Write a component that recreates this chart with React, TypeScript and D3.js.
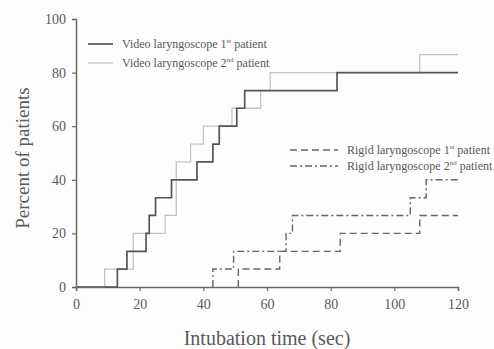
import React, { useEffect, useRef } from "react";
import * as d3 from "d3";

// times (sec) and cumulative percent of patients
const videoFirstTimes = [0, 13, 16, 22, 23, 25, 30, 38, 43, 45, 50.5, 53, 82, 120];
const videoFirstPct = [0, 6.7, 13.3, 20, 26.7, 33.3, 40, 46.7, 53.3, 60, 66.7, 73.3, 80, 80];

const videoSecondTimes = [0, 9, 18, 28, 31.5, 36, 40, 49, 58, 61, 108, 120];
const videoSecondPct = [0, 6.7, 20, 26.7, 46.7, 53.3, 60, 66.7, 73.3, 80, 86.7, 86.7];

// rigid curves lie on the axis until the first success, so they start there
const rigidFirstTimes = [51, 51, 64, 83, 108, 120];
const rigidFirstPct = [0, 6.7, 13.3, 20, 26.7, 26.7];

const rigidSecondTimes = [43, 43, 49.5, 66, 68, 105, 110, 120];
const rigidSecondPct = [0, 6.7, 13.3, 20, 26.7, 33.3, 40, 40];

const xTicks = [0, 20, 40, 60, 80, 100, 120];
const yTicks = [0, 20, 40, 60, 80, 100];

const W = 494;
const H = 349;
const FONT = "'Liberation Serif', 'DejaVu Serif', serif";

const App: React.FC = () => {
  const svgRef = useRef<SVGSVGElement>(null);

  useEffect(() => {
    if (!svgRef.current) return;
    const svg = d3.select(svgRef.current);
    svg.selectAll("*").remove();

    const x = d3.scaleLinear().domain([0, 120]).range([76, 458]);
    const y = d3.scaleLinear().domain([0, 100]).range([287, 19]);

    svg.append("rect").attr("width", W).attr("height", H).attr("fill", "#fdfdfd");

    const axisColor = "#6a6a6a";
    const textColor = "#5a5a5a";

    // axes
    const xAxis = svg
      .append("g")
      .attr("transform", `translate(0,${y(0)})`)
      .call(d3.axisBottom(x).tickValues(xTicks).tickSize(4).tickPadding(8));
    const yAxis = svg
      .append("g")
      .attr("transform", `translate(${x(0)},0)`)
      .call(d3.axisLeft(y).tickValues(yTicks).tickSize(4).tickPadding(6));

    [xAxis, yAxis].forEach((a) => {
      a.select(".domain").attr("stroke", axisColor).attr("stroke-width", 1.5);
      a.selectAll(".tick line").attr("stroke", axisColor).attr("stroke-width", 1.2);
      a.selectAll(".tick text")
        .attr("fill", textColor)
        .style("font-family", FONT)
        .style("font-size", "14px");
    });

    // step curves
    const line = d3
      .line<[number, number]>()
      .x((d) => x(d[0]))
      .y((d) => y(d[1]))
      .curve(d3.curveStepAfter);

    const series = [
      { t: rigidFirstTimes, p: rigidFirstPct, color: "#666", w: 1.4, dash: "7,4" },
      { t: rigidSecondTimes, p: rigidSecondPct, color: "#666", w: 1.4, dash: "7,3,2,3" },
      { t: videoSecondTimes, p: videoSecondPct, color: "#c4c4c4", w: 1.3, dash: null },
      { t: videoFirstTimes, p: videoFirstPct, color: "#555", w: 1.7, dash: null },
    ];

    series.forEach((s) => {
      const pts = s.t.map((t, i) => [t, s.p[i]] as [number, number]);
      svg
        .append("path")
        .attr("d", line(pts) || "")
        .attr("fill", "none")
        .attr("stroke", s.color)
        .attr("stroke-width", s.w)
        .attr("stroke-dasharray", s.dash);
    });

    // legends
    const legendItems = [
      { x1: 88, x2: 113, ly: 44, color: "#555", w: 1.7, dash: null, label: "Video laryngoscope 1", sup: "st" },
      { x1: 88, x2: 113, ly: 63, color: "#c4c4c4", w: 1.3, dash: null, label: "Video laryngoscope 2", sup: "nd" },
      { x1: 290, x2: 338, ly: 150, color: "#666", w: 1.4, dash: "7,4", label: "Rigid laryngoscope 1", sup: "st" },
      { x1: 290, x2: 338, ly: 166, color: "#666", w: 1.4, dash: "7,3,2,3", label: "Rigid laryngoscope 2", sup: "nd" },
    ];

    legendItems.forEach((d) => {
      svg
        .append("line")
        .attr("x1", d.x1)
        .attr("x2", d.x2)
        .attr("y1", d.ly)
        .attr("y2", d.ly)
        .attr("stroke", d.color)
        .attr("stroke-width", d.w)
        .attr("stroke-dasharray", d.dash);

      const txt = svg
        .append("text")
        .attr("x", d.x2 + 9)
        .attr("y", d.ly + 4)
        .attr("fill", textColor)
        .style("font-family", FONT)
        .style("font-size", "12px");
      txt.append("tspan").text(d.label);
      txt.append("tspan").attr("dy", -5).style("font-size", "7px").text(d.sup);
      txt.append("tspan").attr("dy", 5).text(" patient");
    });

    // axis titles
    svg
      .append("text")
      .attr("x", 267)
      .attr("y", 345)
      .attr("text-anchor", "middle")
      .attr("fill", textColor)
      .style("font-family", FONT)
      .style("font-size", "20px")
      .text("Intubation time (sec)");

    svg
      .append("text")
      .attr("transform", `translate(29,158) rotate(-90)`)
      .attr("text-anchor", "middle")
      .attr("fill", textColor)
      .style("font-family", FONT)
      .style("font-size", "19px")
      .text("Percent of patients");
  }, []);

  return (
    <svg
      ref={svgRef}
      width={W}
      height={H}
      style={{ position: "absolute", left: 0, top: 0 }}
    />
  );
};

export default App;
